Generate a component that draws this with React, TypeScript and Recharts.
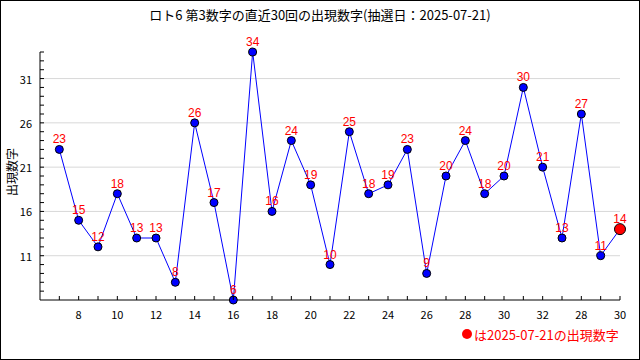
import { LineChart, Line, XAxis, YAxis, ReferenceLine, LabelList } from "recharts";

// 第3数字 (most recent 30 draws, oldest first)
const drawValues = [23, 15, 12, 18, 13, 13, 8, 26, 17, 6, 34, 16, 24, 19, 10, 25, 18, 19, 23, 9, 20, 24, 18, 20, 30, 21, 13, 27, 11, 14];
// labels shown under every second draw (odd positions)
const xTickLabels = ["8", "10", "12", "14", "16", "18", "20", "22", "24", "26", "28", "30", "32", "28", "30"];
const yLabelValues = [11, 16, 21, 26, 31];
const yMin = 6;
const yMax = 34;

const data = drawValues.map((v, i) => ({ idx: i, v }));
const xTicks = data.map((d) => d.idx);
const yTicks: number[] = [];
for (let t = yMin + 1; t <= yMax; t++) yTicks.push(t);

const jp = "'Noto Sans CJK JP', sans-serif";

const XTick = (props: any) => {
    const { x, y, payload } = props;
    const axisY = y - 8;
    const i = payload.value;
    const label = i % 2 === 1 ? xTickLabels[(i - 1) / 2] : null;
    return (
        <g>
            <line x1={x} x2={x} y1={axisY} y2={axisY - 4} stroke="#000" />
            {label && (
                <text x={x} y={y + 6} textAnchor="middle" dominantBaseline="central" fontSize={11} fontFamily={jp} fill="#000">
                    {label}
                </text>
            )}
        </g>
    );
};

const YTick = (props: any) => {
    const { x, y, payload } = props;
    const axisX = x + 8;
    const show = yLabelValues.includes(payload.value);
    return (
        <g>
            <line x1={axisX} x2={axisX + 4} y1={y} y2={y} stroke="#000" />
            {show && (
                <text x={x} y={y} textAnchor="end" dominantBaseline="central" fontSize={11} fontFamily={jp} fill="#000">
                    {payload.value}
                </text>
            )}
        </g>
    );
};

const Dot = (p: any) => {
    const last = p.index === drawValues.length - 1;
    return (
        <circle
            key={p.index}
            cx={p.cx}
            cy={p.cy}
            r={last ? 5.5 : 4}
            fill={last ? "#ff0000" : "#0000ff"}
            stroke="#000"
            strokeWidth={1}
        />
    );
};

export default function App() {
    return (
        <div style={{ position: "fixed", left: 0, top: 0, width: 640, height: 360, background: "#fff" }}>
            <div
                style={{
                    position: "absolute",
                    top: 6,
                    left: 0,
                    width: 640,
                    textAlign: "center",
                    fontFamily: jp,
                    fontSize: 13,
                    lineHeight: "18px",
                    color: "#000",
                }}
            >
                ロト6 第3数字の直近30回の出現数字(抽選日：2025-07-21)
            </div>
            <LineChart width={640} height={360} data={data} margin={{ top: 52, right: 20, bottom: 0, left: 0 }}>
                {yLabelValues.map((g) => (
                    <ReferenceLine key={g} y={g} stroke="#d8d8d8" strokeWidth={1} />
                ))}
                <XAxis
                    type="number"
                    dataKey="idx"
                    domain={[-1, drawValues.length - 1]}
                    ticks={xTicks}
                    interval={0}
                    height={60}
                    tickSize={0}
                    tickMargin={8}
                    tickLine={false}
                    axisLine={{ stroke: "#000" }}
                    tick={<XTick />}
                />
                <YAxis
                    domain={[yMin, yMax]}
                    ticks={yTicks}
                    interval={0}
                    width={40}
                    tickSize={0}
                    tickMargin={8}
                    tickLine={false}
                    axisLine={{ stroke: "#000" }}
                    tick={<YTick />}
                />
                <Line
                    dataKey="v"
                    stroke="#0000ff"
                    strokeWidth={1}
                    dot={Dot}
                    activeDot={false}
                    isAnimationActive={false}
                >
                    <LabelList dataKey="v" position="top" offset={6} fill="#ff0000" fontSize={12} fontFamily="'Liberation Sans', Arial, sans-serif" />
                </Line>
                <text
                    x={11}
                    y={172}
                    transform="rotate(-90 11 172)"
                    textAnchor="middle"
                    dominantBaseline="central"
                    fontSize={12}
                    fontFamily={jp}
                    fill="#000"
                >
                    出現数字
                </text>
                <circle cx={467} cy={334} r={5} fill="#ff0000" />
                <text x={474} y={334} dominantBaseline="central" fontSize={13} fontFamily={jp} fill="#ff0000">
                    は2025-07-21の出現数字
                </text>
            </LineChart>
            <div
                style={{
                    position: "absolute",
                    left: 0,
                    top: 0,
                    width: 640,
                    height: 360,
                    boxSizing: "border-box",
                    border: "1px solid #000",
                    pointerEvents: "none",
                }}
            />
        </div>
    );
}
